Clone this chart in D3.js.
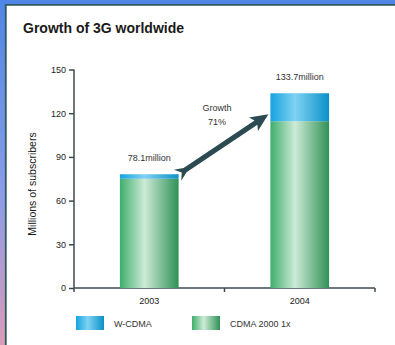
<!DOCTYPE html>
<meta charset="utf-8" />
<style>
  body { margin: 0; background: #fff; }
  svg text { font-family: "Liberation Sans", Arial, sans-serif; fill: #222; }
  .axis path, .axis line { stroke: #3c4a50; stroke-width: 1.5px; }
  .axis text { font-size: 9px; fill: #222; }
</style>
<svg width="395" height="345"></svg>
<script src="https://d3js.org/d3.v7.min.js"></script>
<script>
  // data
  var years = ["2003", "2004"];
  var cdma2000 = [75.0, 114.5];
  var wcdma = [3.1, 19.2];
  var totalLabels = ["78.1million", "133.7million"];
  var yTicks = [0, 30, 60, 90, 120, 150];
  var seriesNames = ["W-CDMA", "CDMA 2000 1x"];

  var svg = d3.select("svg");
  var defs = svg.append("defs");

  // frame: blue/pink strip on the left, blue on top
  var side = defs.append("linearGradient").attr("id", "side")
    .attr("x1", 0).attr("y1", 0).attr("x2", 0).attr("y2", 1);
  side.append("stop").attr("offset", "0%").attr("stop-color", "#4f86e6");
  side.append("stop").attr("offset", "55%").attr("stop-color", "#8a9ce8");
  side.append("stop").attr("offset", "100%").attr("stop-color", "#dc9ab8");
  svg.append("rect").attr("x", 0).attr("y", 0).attr("width", 395).attr("height", 4).attr("fill", "#4f86e6");
  svg.append("rect").attr("x", 0).attr("y", 0).attr("width", 5).attr("height", 345).attr("fill", "url(#side)");
  svg.append("path").attr("d", "M5.8,345V4.8H395").attr("fill", "none")
    .attr("stroke", "#2f5a5e").attr("stroke-width", 1.8);

  function grad(id, c) {
    var g = defs.append("linearGradient").attr("id", id);
    g.append("stop").attr("offset", "0%").attr("stop-color", c[0]);
    g.append("stop").attr("offset", "42%").attr("stop-color", c[1]);
    g.append("stop").attr("offset", "100%").attr("stop-color", c[2]);
  }
  grad("gGreen", ["#3fae6c", "#cdebd6", "#2f9156"]);
  grad("gBlue", ["#16a3e0", "#7fd2f2", "#0a91c8"]);

  svg.append("text").attr("x", 23).attr("y", 33)
    .style("font-size", "14px").style("font-weight", "bold").style("fill", "#1a1a1a")
    .text("Growth of 3G worldwide");

  var x = d3.scaleBand().domain(years).range([74, 375]).paddingInner(0.61).paddingOuter(0.305);
  var y = d3.scaleLinear().domain([0, 150]).range([288, 69.5]);

  var yAxis = svg.append("g").attr("class", "axis")
    .attr("transform", "translate(74,0)")
    .call(d3.axisLeft(y).tickValues(yTicks).tickSize(5).tickPadding(3).tickSizeOuter(0));
  yAxis.select(".domain").attr("d", "M0," + y(150) + "V" + y(0));

  var xAxis = svg.append("g").attr("class", "axis")
    .attr("transform", "translate(0,288)")
    .call(d3.axisBottom(x).tickSize(0).tickPadding(10));
  xAxis.select(".domain").attr("d", "M74,0H375");
  xAxis.selectAll(".edge").data([74, 224.5, 375]).enter().append("line")
    .attr("x1", function (d) { return d; }).attr("x2", function (d) { return d; })
    .attr("y1", 0).attr("y2", 4);

  svg.append("text").attr("transform", "translate(36,184) rotate(-90)")
    .attr("text-anchor", "middle").style("font-size", "10.5px").style("fill", "#1a1a1a")
    .text("Millions of subscribers");

  // bars
  var bars = svg.append("g").selectAll("g").data(years).enter().append("g");
  bars.append("rect")
    .attr("x", function (d) { return x(d); })
    .attr("width", x.bandwidth())
    .attr("y", function (d, i) { return y(cdma2000[i]); })
    .attr("height", function (d, i) { return y(0) - y(cdma2000[i]); })
    .attr("fill", "url(#gGreen)");
  bars.append("rect")
    .attr("x", function (d) { return x(d); })
    .attr("width", x.bandwidth())
    .attr("y", function (d, i) { return y(cdma2000[i] + wcdma[i]); })
    .attr("height", function (d, i) { return y(cdma2000[i]) - y(cdma2000[i] + wcdma[i]); })
    .attr("fill", "url(#gBlue)");
  bars.append("text")
    .attr("x", function (d) { return x(d) + x.bandwidth() / 2; })
    .attr("y", function (d, i) { return y(cdma2000[i] + wcdma[i]) - 13; })
    .attr("text-anchor", "middle").style("font-size", "9px").style("fill", "#333")
    .text(function (d, i) { return totalLabels[i]; });

  // growth arrow between the bars (swallow tail at the 2003 bar)
  var x0 = x(years[0]) + x.bandwidth() - 1, y0 = y(cdma2000[0] + wcdma[0]) + 1;
  var x1 = x(years[1]) - 2, y1 = y(cdma2000[1]) - 7;
  var len = Math.hypot(x1 - x0, y1 - y0);
  var ang = Math.atan2(y1 - y0, x1 - x0) * 180 / Math.PI;
  var arrow = "M5,0 L0,-6.5 L9,-2.6 L" + (len - 15) + ",-2.6 L" + (len - 18) + ",-8 L" + len + ",0 L" +
    (len - 18) + ",8 L" + (len - 15) + ",2.6 L9,2.6 L0,6.5 Z";
  svg.append("path").attr("d", arrow)
    .attr("transform", "translate(" + x0 + "," + y0 + ") rotate(" + ang + ")")
    .attr("fill", "#2c4a52");
  svg.append("text").attr("x", 217).attr("y", 111).attr("text-anchor", "middle")
    .style("font-size", "9px").style("fill", "#333").text("Growth");
  svg.append("text").attr("x", 217).attr("y", 125).attr("text-anchor", "middle")
    .style("font-size", "9px").style("fill", "#333").text("71%");

  // legend
  var legX = [76, 192];
  var leg = svg.append("g").selectAll("g").data(seriesNames).enter().append("g")
    .attr("transform", function (d, i) { return "translate(" + legX[i] + ",316)"; });
  leg.append("rect").attr("width", 28).attr("height", 14)
    .attr("fill", function (d, i) { return i === 0 ? "url(#gBlue)" : "url(#gGreen)"; });
  leg.append("text").attr("x", 38).attr("y", 10.5)
    .style("font-size", "9px").style("fill", "#333").text(function (d) { return d; });
</script>
